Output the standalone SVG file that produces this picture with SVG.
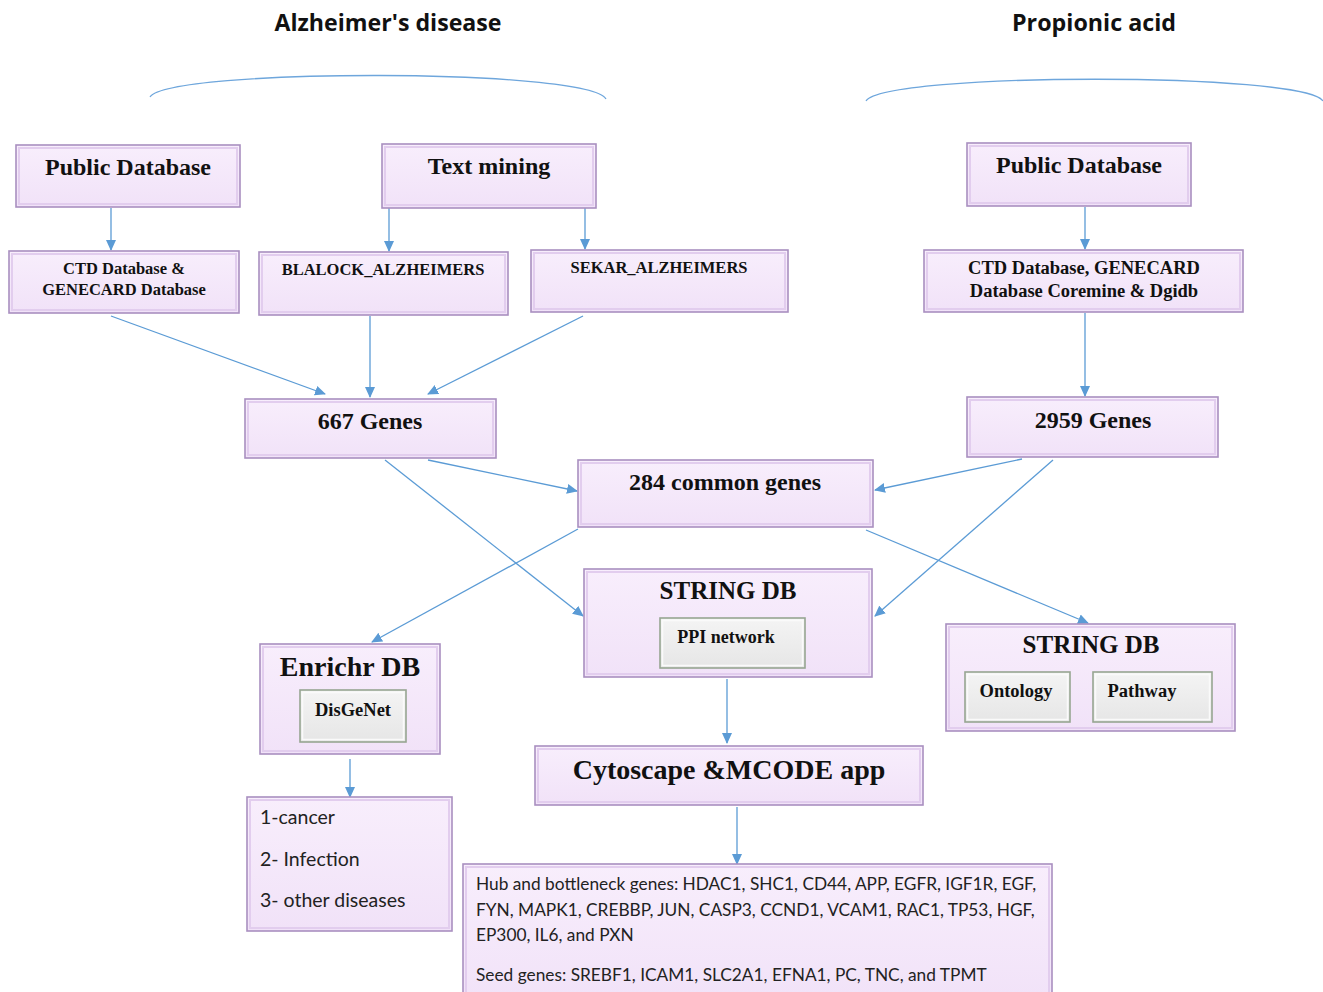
<svg xmlns="http://www.w3.org/2000/svg" width="1323" height="992" viewBox="0 0 1323 992">
<defs>
<linearGradient id="gp" x1="0" y1="0" x2="0" y2="1">
<stop offset="0" stop-color="#f8eefc"/>
<stop offset="1" stop-color="#f1e2f8"/>
</linearGradient>
<linearGradient id="gg" x1="0" y1="0" x2="0" y2="1">
<stop offset="0" stop-color="#f4f4f4"/>
<stop offset="1" stop-color="#e6e6e6"/>
</linearGradient>
<marker id="ah" markerWidth="11" markerHeight="11" refX="10" refY="5.5" orient="auto" markerUnits="userSpaceOnUse">
<path d="M0,0.5 L11,5.5 L0,10.5 z" fill="#5b9bd5"/>
</marker>
<style>
.box{fill:url(#gp);stroke:#a98fc0;stroke-width:1.6}
.bev{fill:none;stroke:#e2cdee;stroke-width:2}
.in{fill:url(#gg);stroke:#97a592;stroke-width:1.6}
.inb{fill:none;stroke:#fafafa;stroke-width:1.5}
.s{font-family:"Liberation Serif","Times New Roman",serif;font-weight:bold;fill:#111;text-anchor:middle}
.c{font-family:Lato,"Open Sans",sans-serif;fill:#222}
.t{font-family:"Open Sans",Lato,sans-serif;font-weight:bold;fill:#111;text-anchor:middle}
.cn{fill:none;stroke:#5b9bd5;stroke-width:1.3}
.arc{fill:none;stroke:#6ea6dc;stroke-width:1.3}
</style>
</defs>
<rect width="1323" height="992" fill="#ffffff"/>

<g id="titles">
<text class="t" x="388" y="31" font-size="23.5" textLength="227" lengthAdjust="spacingAndGlyphs">Alzheimer's disease</text>
<text class="t" x="1094" y="31" font-size="23.5" textLength="164" lengthAdjust="spacingAndGlyphs">Propionic acid</text>
<path class="arc" d="M150,97 C170,68 590,68 606,99"/>
<path class="arc" d="M866,101 C885,72 1305,72 1323,101"/>
</g>

<g id="connectors">
<line class="cn" x1="111" y1="208" x2="111" y2="250" marker-end="url(#ah)"/>
<line class="cn" x1="389" y1="208" x2="389" y2="251" marker-end="url(#ah)"/>
<line class="cn" x1="585" y1="208" x2="585" y2="249" marker-end="url(#ah)"/>
<line class="cn" x1="1085" y1="207" x2="1085" y2="249" marker-end="url(#ah)"/>
<line class="cn" x1="111" y1="316" x2="325" y2="394" marker-end="url(#ah)"/>
<line class="cn" x1="370" y1="316" x2="370" y2="397" marker-end="url(#ah)"/>
<line class="cn" x1="583" y1="316" x2="428" y2="394" marker-end="url(#ah)"/>
<line class="cn" x1="1085" y1="313" x2="1085" y2="396" marker-end="url(#ah)"/>
<line class="cn" x1="428" y1="460" x2="577" y2="491" marker-end="url(#ah)"/>
<line class="cn" x1="1022" y1="459" x2="875" y2="490" marker-end="url(#ah)"/>
<line class="cn" x1="385" y1="460" x2="583" y2="616" marker-end="url(#ah)"/>
<line class="cn" x1="1053" y1="460" x2="875" y2="616" marker-end="url(#ah)"/>
<line class="cn" x1="578" y1="529" x2="372" y2="642" marker-end="url(#ah)"/>
<line class="cn" x1="866" y1="530" x2="1088" y2="623" marker-end="url(#ah)"/>
<line class="cn" x1="727" y1="679" x2="727" y2="743" marker-end="url(#ah)"/>
<line class="cn" x1="350" y1="759" x2="350" y2="797" marker-end="url(#ah)"/>
<line class="cn" x1="737" y1="807" x2="737" y2="864" marker-end="url(#ah)"/>
</g>

<g id="pubdb-left">
<rect class="box" x="16" y="145" width="224" height="62"/>
<rect class="bev" x="19" y="148" width="218" height="56"/>
<text class="s" x="128" y="175" font-size="24">Public Database</text>
</g>
<g id="textmining">
<rect class="box" x="382" y="144" width="214" height="64"/>
<rect class="bev" x="385" y="147" width="208" height="58"/>
<text class="s" x="489" y="174" font-size="24">Text mining</text>
</g>
<g id="pubdb-right">
<rect class="box" x="967" y="143" width="224" height="63"/>
<rect class="bev" x="970" y="146" width="218" height="57"/>
<text class="s" x="1079" y="173" font-size="24">Public Database</text>
</g>
<g id="ctd-left">
<rect class="box" x="9" y="251" width="230" height="62"/>
<rect class="bev" x="12" y="254" width="224" height="56"/>
<text class="s" x="124" y="274" font-size="16.5">CTD Database &amp;</text>
<text class="s" x="124" y="295" font-size="16.5">GENECARD Database</text>
</g>
<g id="blalock">
<rect class="box" x="259" y="252" width="249" height="63"/>
<rect class="bev" x="262" y="255" width="243" height="57"/>
<text class="s" x="383" y="275" font-size="16.5">BLALOCK_ALZHEIMERS</text>
</g>
<g id="sekar">
<rect class="box" x="531" y="250" width="257" height="62"/>
<rect class="bev" x="534" y="253" width="251" height="56"/>
<text class="s" x="659" y="273" font-size="16.5">SEKAR_ALZHEIMERS</text>
</g>
<g id="ctd-right">
<rect class="box" x="924" y="250" width="319" height="62"/>
<rect class="bev" x="927" y="253" width="313" height="56"/>
<text class="s" x="1084" y="274" font-size="18.5">CTD Database, GENECARD</text>
<text class="s" x="1084" y="297" font-size="18.5">Database Coremine &amp; Dgidb</text>
</g>
<g id="genes667">
<rect class="box" x="245" y="399" width="251" height="59"/>
<rect class="bev" x="248" y="402" width="245" height="53"/>
<text class="s" x="370" y="429" font-size="24">667 Genes</text>
</g>
<g id="genes2959">
<rect class="box" x="967" y="397" width="251" height="60"/>
<rect class="bev" x="970" y="400" width="245" height="54"/>
<text class="s" x="1093" y="428" font-size="24">2959 Genes</text>
</g>
<g id="common284">
<rect class="box" x="578" y="460" width="295" height="67"/>
<rect class="bev" x="581" y="463" width="289" height="61"/>
<text class="s" x="725" y="490" font-size="24">284 common genes</text>
</g>
<g id="string-center">
<rect class="box" x="584" y="569" width="288" height="108"/>
<rect class="bev" x="587" y="572" width="282" height="102"/>
<text class="s" x="728" y="599" font-size="25">STRING DB</text>
<rect class="in" x="660" y="618" width="145" height="50"/>
<rect class="inb" x="662.5" y="620.5" width="140" height="45"/>
<text class="s" x="726" y="643" font-size="18">PPI network</text>
</g>
<g id="string-right">
<rect class="box" x="946" y="624" width="289" height="107"/>
<rect class="bev" x="949" y="627" width="283" height="101"/>
<text class="s" x="1091" y="653" font-size="25">STRING DB</text>
<rect class="in" x="965" y="672" width="105" height="50"/>
<rect class="inb" x="967.5" y="674.5" width="100" height="45"/>
<text class="s" x="1016" y="697" font-size="18.5">Ontology</text>
<rect class="in" x="1093" y="672" width="119" height="50"/>
<rect class="inb" x="1095.5" y="674.5" width="114" height="45"/>
<text class="s" x="1142" y="697" font-size="18.5">Pathway</text>
</g>
<g id="enrichr">
<rect class="box" x="260" y="644" width="180" height="110"/>
<rect class="bev" x="263" y="647" width="174" height="104"/>
<text class="s" x="350" y="676" font-size="28">Enrichr DB</text>
<rect class="in" x="300" y="690" width="106" height="52"/>
<rect class="inb" x="302.5" y="692.5" width="101" height="47"/>
<text class="s" x="353" y="716" font-size="18.5">DisGeNet</text>
</g>
<g id="cytoscape">
<rect class="box" x="535" y="746" width="388" height="59"/>
<rect class="bev" x="538" y="749" width="382" height="53"/>
<text class="s" x="729" y="779" font-size="28">Cytoscape &amp;MCODE app</text>
</g>
<g id="diseases">
<rect class="box" x="247" y="797" width="205" height="134"/>
<rect class="bev" x="250" y="800" width="199" height="128"/>
<text class="c" x="260" y="824" font-size="19.5">1-cancer</text>
<text class="c" x="260" y="866" font-size="19.5">2- Infection</text>
<text class="c" x="260" y="907" font-size="19.5">3- other diseases</text>
</g>
<g id="hubgenes">
<rect class="box" x="463" y="864" width="589" height="140"/>
<rect class="bev" x="466" y="867" width="583" height="134"/>
<text class="c" x="476" y="890" font-size="17.3">Hub and bottleneck genes: HDAC1, SHC1, CD44, APP, EGFR, IGF1R, EGF,</text>
<text class="c" x="476" y="916" font-size="17.3">FYN, MAPK1, CREBBP, JUN, CASP3, CCND1, VCAM1, RAC1, TP53, HGF,</text>
<text class="c" x="476" y="941" font-size="17.3">EP300, IL6, and PXN</text>
<text class="c" x="476" y="981" font-size="17.3">Seed genes: SREBF1, ICAM1, SLC2A1, EFNA1, PC, TNC, and TPMT</text>
</g>
</svg>
